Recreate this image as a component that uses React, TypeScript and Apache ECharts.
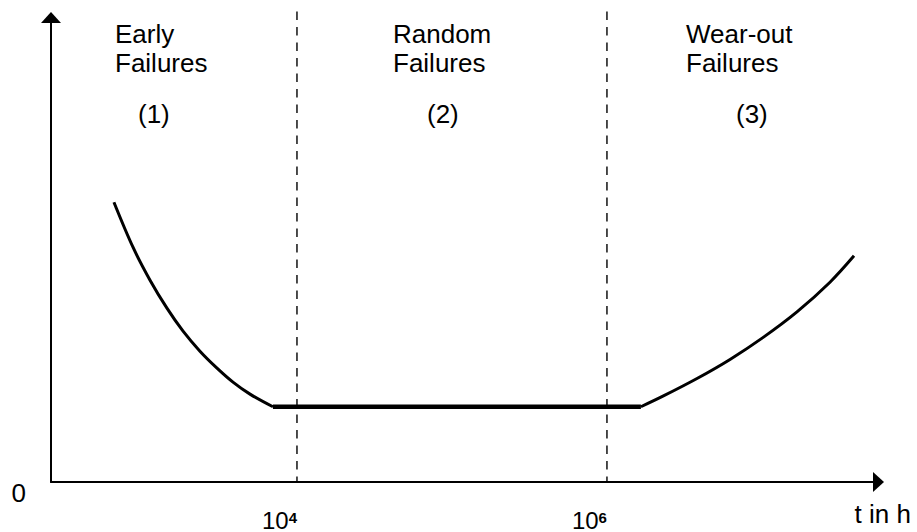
import React, { useEffect, useRef } from "react";
import * as echarts from "echarts";

// x values are log10(t / h); y values are failure rate (arbitrary units)
const earlyLogT = [2.819, 2.942, 3.052, 3.161, 3.265, 3.374, 3.484, 3.587, 3.697, 3.845];
const earlyRate = [60.22, 50.54, 43.44, 37.42, 32.47, 28.17, 24.52, 21.51, 18.92, 16.2];

const randomLogT = [3.845, 6.219];
const randomRate = [16.2, 16.2];

const wearLogT = [6.219, 6.361, 6.581, 6.794, 7.006, 7.226, 7.439, 7.594];
const wearRate = [16.2, 18.47, 22.28, 26.39, 31.08, 36.62, 43.01, 48.69];

const boundaryLogT = [4, 6];
const boundaryRate = [101.3, 0]; // dashed guide from top of plot down to the time axis
const phaseTitles = ["Early\nFailures", "Random\nFailures", "Wear-out\nFailures"];
const phaseNumbers = ["(1)", "(2)", "(3)"];
const xAxisName = "t in h";
const yZeroLabel = "0";

const FONT = '"Liberation Sans", Arial, Helvetica, sans-serif';

export default function App() {
  const ref = useRef<HTMLDivElement>(null);

  useEffect(() => {
    document.body.style.margin = "0";
    if (!ref.current) return;
    const chart = echarts.init(ref.current, null, { renderer: "svg" });

    const pairs = (xs: number[], ys: number[]) => xs.map((x, i) => [x, ys[i]]);
    const titleX = [115, 393, 686];
    const numX = [138, 427, 736];

    const option: any = {
      animation: false,
      backgroundColor: "#fff",
      textStyle: { fontFamily: FONT, color: "#000" },
      grid: { left: 51, right: 38.5, top: 17.5, bottom: 50, outerBoundsMode: "none", containLabel: false },
      xAxis: {
        type: "value",
        min: 2.413,
        max: 7.752,
        name: xAxisName,
        nameLocation: "end",
        nameGap: -24,
        nameTextStyle: {
          fontSize: 26,
          fontFamily: FONT,
          color: "#000",
          align: "left",
          verticalAlign: "top",
          padding: [19, 0, 0, 0],
        },
        axisLine: {
          show: true,
          symbol: ["none", "triangle"],
          symbolSize: [20, 11],
          lineStyle: { color: "#000", width: 2 },
        },
        axisTick: { show: false },
        splitLine: { show: false },
        axisLabel: {
          show: true,
          customValues: boundaryLogT,
          align: "right",
          margin: 28,
          formatter: (v: number) => `{b|10}{s|${Math.round(v)}}`,
          rich: {
            b: { fontSize: 24, fontFamily: FONT, color: "#000", lineHeight: 20 },
            s: {
              fontSize: 15,
              fontWeight: "bold",
              fontFamily: FONT,
              color: "#000",
              verticalAlign: "top",
            },
          },
        },
      },
      yAxis: {
        type: "value",
        min: 0,
        max: 100,
        interval: 100,
        axisLine: {
          show: true,
          symbol: ["none", "triangle"],
          symbolSize: [20, 11],
          lineStyle: { color: "#000", width: 2 },
        },
        axisTick: { show: false },
        splitLine: { show: false },
        axisLabel: {
          show: true,
          formatter: (v: number) => (v === 0 ? yZeroLabel : ""),
          fontSize: 26,
          fontFamily: FONT,
          color: "#000",
          lineHeight: 22,
          verticalAlign: "top",
          margin: 25,
        },
      },
      series: [
        ...boundaryLogT.map((b) => ({
          type: "line",
          data: boundaryRate.map((r) => [b, r]),
          clip: false,
          symbol: "none",
          silent: true,
          lineStyle: { color: "#000", width: 1.4, type: [8.5, 7] },
          z: 2,
        })),
        {
          type: "line",
          data: pairs(earlyLogT, earlyRate),
          smooth: 0.35,
          symbol: "none",
          lineStyle: { color: "#000", width: 3 },
          z: 3,
        },
        {
          type: "line",
          data: pairs(randomLogT, randomRate),
          symbol: "none",
          lineStyle: { color: "#000", width: 4.5 },
          z: 3,
        },
        {
          type: "line",
          data: pairs(wearLogT, wearRate),
          smooth: 0.35,
          symbol: "none",
          lineStyle: { color: "#000", width: 3 },
          z: 3,
        },
      ],
      graphic: [
        ...phaseTitles.map((t, i) => ({
          type: "text",
          x: titleX[i],
          y: 20,
          style: { text: t, fontSize: 26, fontFamily: FONT, lineHeight: 28.5, fill: "#000" },
        })),
        ...phaseNumbers.map((t, i) => ({
          type: "text",
          x: numX[i],
          y: 100.5,
          style: { text: t, fontSize: 26, fontFamily: FONT, lineHeight: 26, fill: "#000" },
        })),
      ],
    };

    chart.setOption(option);
    return () => chart.dispose();
  }, []);

  return <div ref={ref} style={{ width: 917, height: 532 }} />;
}
